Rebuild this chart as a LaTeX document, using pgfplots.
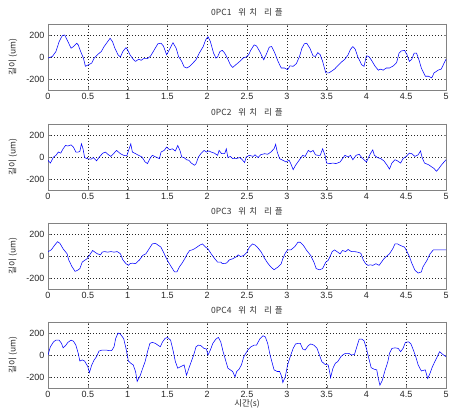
\documentclass[border=0pt]{standalone}
\usepackage{fontspec}
\usepackage{pgfplots}
\pgfplotsset{compat=1.18}
\setmainfont{Liberation Sans}
\newfontfamily\kr{Noto Sans CJK KR}
\definecolor{lineblue}{RGB}{35,35,250}
\definecolor{framegray}{RGB}{130,130,130}
\newcommand{\ttl}[1]{0PC#1\hspace{7pt}위\hspace{3pt}치\hspace{7pt}리\hspace{3pt}플}
\pgfplotsset{myax/.style={
  scale only axis, width=398pt, height=66pt,
  xmin=0, xmax=5, ymin=-300, ymax=300,
  xtick={0,0.5,...,5}, ytick={-200,0,200},
  xticklabels={0,0.5,1,1.5,2,2.5,3,3.5,4,4.5,5},
  grid=major, no markers,
  major grid style={black!85, dash pattern=on 1pt off 2pt, line width=0.5pt},
  axis line style={framegray, line width=0.6pt},
  tick style={framegray}, tick align=inside, major tick length=2.5pt,
  /pgf/number format/assume math mode=true,
  tick label style={font=\fontsize{9}{10}\selectfont, text=black!85},
  title style={at={(0.5,1)}, anchor=south, yshift=-2pt, font=\kr\fontsize{8.5}{9}\selectfont, text=black!80},
  ylabel style={at={(axis description cs:-0.088,0.5)}, anchor=center, font=\kr\fontsize{8.5}{9}\selectfont, text=black!85},
  ylabel={길이 (um)},
  every axis plot/.append style={lineblue, line width=0.55pt}
}}
\begin{document}
\begin{tikzpicture}[x=1pt,y=1pt]
\useasboundingbox (0,0) rectangle (449,409);
\begin{axis}[myax, at={(48pt,319pt)}, anchor=south west, title={\ttl{1}}]
\addplot coordinates {
(0,-10)(0.055,5)(0.1,50)(0.14,140)(0.18,195)(0.21,200)(0.24,155)(0.29,80)(0.32,95)(0.36,125)(0.38,110)(0.41,50)(0.445,-10)(0.47,-85)(0.51,-70)(0.55,-55)(0.58,-10)(0.62,20)(0.67,50)(0.705,95)(0.75,140)(0.78,170)(0.81,140)(0.84,80)(0.88,20)(0.91,0)(0.94,50)(0.98,85)(1.0,65)(1.03,20)(1.075,-25)(1.1,-40)(1.14,-20)(1.17,-30)(1.2,-15)(1.25,-15)(1.29,10)(1.335,65)(1.38,120)(1.42,125)(1.45,100)(1.49,20)(1.535,80)(1.57,130)(1.61,80)(1.64,5)(1.68,-40)(1.71,-90)(1.745,-100)(1.78,-85)(1.82,-55)(1.86,-25)(1.9,35)(1.95,95)(1.98,155)(2.01,185)(2.04,140)(2.08,35)(2.11,-10)(2.13,0)(2.16,50)(2.19,60)(2.22,35)(2.26,-20)(2.29,-70)(2.32,-95)(2.36,-70)(2.41,-40)(2.45,-10)(2.49,0)(2.52,20)(2.55,65)(2.59,110)(2.62,100)(2.66,50)(2.71,-25)(2.74,20)(2.78,90)(2.81,95)(2.85,35)(2.89,-40)(2.93,-100)(2.97,-100)(3.01,-115)(3.04,-80)(3.08,-85)(3.12,-60)(3.16,5)(3.19,80)(3.22,120)(3.25,125)(3.29,80)(3.33,10)(3.36,5)(3.39,40)(3.42,20)(3.45,-40)(3.49,-145)(3.53,-145)(3.56,-130)(3.6,-110)(3.64,-80)(3.68,-50)(3.73,-20)(3.77,20)(3.8,70)(3.83,95)(3.86,70)(3.89,5)(3.94,-70)(3.97,-85)(4.0,10)(4.03,5)(4.06,-25)(4.11,-85)(4.15,-120)(4.18,-110)(4.21,-120)(4.25,-100)(4.29,-100)(4.34,-80)(4.38,-50)(4.41,35)(4.44,55)(4.48,60)(4.51,20)(4.54,-40)(4.57,-20)(4.6,35)(4.63,35)(4.66,-25)(4.69,-100)(4.74,-175)(4.78,-175)(4.82,-190)(4.85,-145)(4.9,-120)(4.94,-110)(5.0,-20)
};
\end{axis}
\begin{axis}[myax, at={(48pt,219pt)}, anchor=south west, title={\ttl{2}}]
\addplot coordinates {
(0,-30)(0.03,-55)(0.07,0)(0.1,15)(0.13,45)(0.16,35)(0.19,75)(0.22,105)(0.25,100)(0.29,110)(0.32,90)(0.35,45)(0.38,45)(0.4,50)(0.42,120)(0.44,75)(0.46,-5)(0.49,-15)(0.54,-20)(0.57,-5)(0.61,-35)(0.65,5)(0.69,35)(0.72,45)(0.76,20)(0.79,5)(0.83,35)(0.86,60)(0.91,30)(0.95,15)(0.99,10)(1.02,75)(1.04,120)(1.06,45)(1.1,30)(1.14,15)(1.18,0)(1.22,-45)(1.25,-60)(1.28,-15)(1.31,15)(1.34,5)(1.37,-5)(1.4,-15)(1.42,45)(1.46,60)(1.49,90)(1.53,65)(1.56,75)(1.6,55)(1.63,105)(1.66,55)(1.68,0)(1.71,-5)(1.74,-25)(1.77,-30)(1.8,-55)(1.84,-75)(1.86,-60)(1.89,0)(1.92,30)(1.96,60)(1.99,45)(2.02,55)(2.05,45)(2.09,35)(2.13,15)(2.15,60)(2.18,30)(2.22,30)(2.24,75)(2.26,-5)(2.29,5)(2.32,-15)(2.36,-15)(2.41,-5)(2.44,-25)(2.47,-50)(2.49,0)(2.53,15)(2.58,5)(2.6,20)(2.64,-5)(2.67,20)(2.72,30)(2.76,25)(2.8,45)(2.84,75)(2.86,115)(2.88,45)(2.91,-15)(2.95,-30)(2.99,-45)(3.03,-30)(3.05,-60)(3.08,-115)(3.11,-75)(3.14,-45)(3.17,-15)(3.2,15)(3.23,5)(3.27,60)(3.3,45)(3.33,60)(3.36,20)(3.39,15)(3.42,15)(3.45,75)(3.48,15)(3.5,-55)(3.54,-60)(3.58,-55)(3.62,-60)(3.67,-45)(3.7,-15)(3.73,15)(3.77,0)(3.8,15)(3.83,-25)(3.87,15)(3.91,25)(3.94,-5)(3.97,-25)(4.0,-45)(4.03,0)(4.05,30)(4.08,65)(4.1,15)(4.14,-5)(4.18,-15)(4.22,-35)(4.26,-75)(4.29,-110)(4.32,-55)(4.36,-25)(4.39,-35)(4.43,-55)(4.46,-15)(4.5,5)(4.54,35)(4.57,30)(4.61,5)(4.65,20)(4.68,55)(4.7,-5)(4.73,-55)(4.78,-70)(4.82,-90)(4.85,-105)(4.88,-130)(4.91,-105)(4.94,-75)(5.0,-25)
};
\end{axis}
\begin{axis}[myax, at={(48pt,120pt)}, anchor=south west, title={\ttl{3}}]
\addplot coordinates {
(0,40)(0.04,55)(0.08,95)(0.12,130)(0.15,115)(0.19,65)(0.24,20)(0.26,-35)(0.3,-95)(0.34,-140)(0.37,-130)(0.4,-115)(0.43,-55)(0.46,-40)(0.49,-25)(0.52,5)(0.56,50)(0.59,35)(0.62,20)(0.66,10)(0.68,35)(0.71,40)(0.75,35)(0.79,40)(0.83,35)(0.87,40)(0.91,20)(0.94,-35)(0.98,-70)(1.01,-85)(1.03,-70)(1.06,-65)(1.1,-70)(1.15,-35)(1.19,5)(1.23,20)(1.27,65)(1.31,110)(1.35,115)(1.38,100)(1.42,80)(1.46,20)(1.5,-40)(1.55,-100)(1.59,-145)(1.62,-145)(1.65,-100)(1.68,-70)(1.71,-35)(1.75,20)(1.78,50)(1.81,55)(1.85,70)(1.88,85)(1.91,100)(1.94,110)(1.98,80)(2.01,65)(2.05,20)(2.09,-20)(2.13,-55)(2.17,-55)(2.19,-70)(2.24,-65)(2.28,-35)(2.32,-25)(2.36,-10)(2.39,10)(2.42,-5)(2.46,5)(2.5,35)(2.53,80)(2.57,110)(2.6,100)(2.63,80)(2.68,35)(2.72,-20)(2.76,-65)(2.8,-100)(2.84,-125)(2.89,-100)(2.93,-70)(2.95,-25)(2.98,25)(3.01,55)(3.05,55)(3.1,85)(3.14,125)(3.17,125)(3.21,95)(3.25,50)(3.3,5)(3.34,-55)(3.37,-115)(3.41,-125)(3.45,-115)(3.49,-55)(3.52,-40)(3.54,-10)(3.57,40)(3.6,55)(3.63,40)(3.67,20)(3.7,50)(3.74,40)(3.77,60)(3.81,40)(3.85,40)(3.89,35)(3.93,25)(3.96,-35)(3.99,-70)(4.02,-85)(4.05,-80)(4.08,-85)(4.12,-70)(4.16,-85)(4.19,-55)(4.22,-25)(4.25,-5)(4.29,20)(4.33,65)(4.36,110)(4.39,110)(4.43,95)(4.48,80)(4.51,40)(4.54,-5)(4.57,-65)(4.61,-130)(4.65,-155)(4.69,-145)(4.71,-100)(4.76,-40)(4.8,20)(4.84,55)(4.88,55)(4.92,55)(4.96,55)(5.0,55)
};
\end{axis}
\begin{axis}[myax, at={(48pt,21pt)}, anchor=south west, title={\ttl{4}},
  xlabel={시간(s)}, xlabel style={font=\kr\fontsize{8.5}{9}\selectfont, text=black!85, yshift=5pt}]
\addplot coordinates {
(0,0)(0.03,75)(0.07,120)(0.1,135)(0.14,135)(0.17,105)(0.19,65)(0.22,85)(0.25,115)(0.29,135)(0.32,125)(0.35,90)(0.38,15)(0.4,-55)(0.43,-45)(0.46,-55)(0.5,-105)(0.52,-160)(0.55,-90)(0.58,-45)(0.61,-15)(0.64,35)(0.68,45)(0.73,45)(0.77,40)(0.8,40)(0.83,75)(0.85,150)(0.88,200)(0.91,190)(0.95,150)(0.98,60)(1.01,-55)(1.04,-75)(1.07,-90)(1.1,-150)(1.12,-240)(1.16,-185)(1.19,-120)(1.22,-60)(1.25,30)(1.28,105)(1.31,115)(1.35,105)(1.38,90)(1.41,75)(1.44,120)(1.47,150)(1.5,160)(1.54,135)(1.57,45)(1.6,-60)(1.63,-120)(1.67,-105)(1.71,-90)(1.74,-185)(1.77,-120)(1.8,-60)(1.83,0)(1.86,75)(1.89,90)(1.92,85)(1.96,60)(1.99,55)(2.01,0)(2.04,45)(2.07,105)(2.11,145)(2.14,160)(2.17,120)(2.2,30)(2.23,-45)(2.26,-120)(2.29,-135)(2.32,-150)(2.35,-200)(2.37,-150)(2.4,-130)(2.43,-90)(2.46,-15)(2.51,45)(2.55,75)(2.59,90)(2.62,90)(2.66,145)(2.7,175)(2.73,165)(2.76,105)(2.79,0)(2.84,-135)(2.88,-150)(2.91,-150)(2.93,-185)(2.95,-250)(2.98,-200)(3.01,-90)(3.05,0)(3.08,60)(3.11,100)(3.14,105)(3.17,105)(3.2,55)(3.23,45)(3.27,85)(3.3,100)(3.34,90)(3.38,60)(3.41,0)(3.44,-60)(3.48,-85)(3.52,-90)(3.54,-160)(3.55,-205)(3.58,-120)(3.61,-75)(3.64,-60)(3.68,-15)(3.71,5)(3.74,15)(3.78,15)(3.81,0)(3.85,5)(3.88,75)(3.91,145)(3.94,145)(3.97,130)(4.0,60)(4.03,-30)(4.06,-115)(4.1,-130)(4.13,-135)(4.15,-215)(4.17,-275)(4.2,-230)(4.23,-150)(4.27,-60)(4.29,15)(4.32,60)(4.36,65)(4.4,60)(4.43,30)(4.46,60)(4.49,115)(4.53,120)(4.56,100)(4.59,45)(4.62,-15)(4.65,-90)(4.69,-145)(4.74,-135)(4.77,-215)(4.8,-165)(4.83,-105)(4.86,-60)(4.9,0)(4.92,30)(4.96,5)(5.0,-15)
};
\end{axis}
\end{tikzpicture}
\end{document}
